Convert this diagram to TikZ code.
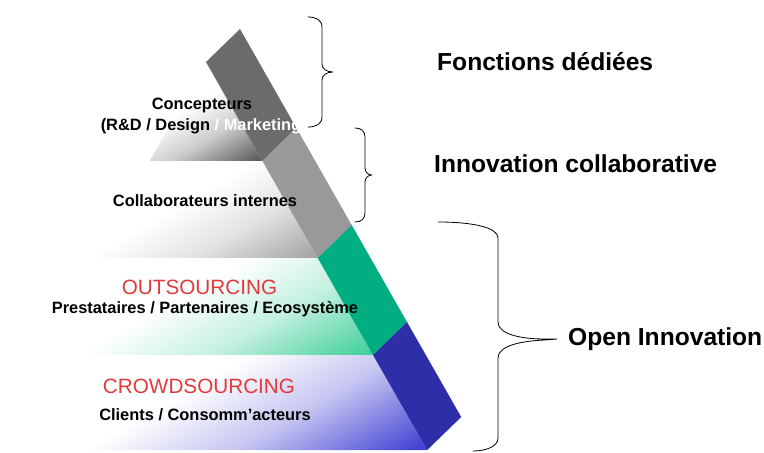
\documentclass[tikz,border=0pt]{standalone}
\usepackage{fontspec}
\setmainfont{Liberation Sans}
\usetikzlibrary{calc}

\definecolor{stripdark}{HTML}{6B6B6B}
\definecolor{stripgray}{HTML}{999999}
\definecolor{stripgreen}{HTML}{00AE82}
\definecolor{stripblue}{HTML}{2E2EA8}
\definecolor{banddark}{HTML}{555555}
\definecolor{bandgray}{HTML}{A2A2A2}
\definecolor{bandgreen}{HTML}{3CCF98}
\definecolor{bandblue}{HTML}{3C3CD2}
\definecolor{outred}{HTML}{E23A3A}
\colorlet{bandcol}{white}

\pgfdeclarehorizontalshading[bandcol]{bandfade}{100bp}{color(0bp)=(white); color(44bp)=(white); color(62bp)=(bandcol!30!white); color(84bp)=(bandcol); color(100bp)=(bandcol)}

\tikzset{
  band/.style={shading=bandfade, shading angle=-60},
  tierlabel/.style={inner sep=0pt, anchor=base, font=\fontsize{16.4}{19}\selectfont\bfseries},
  sourcelabel/.style={inner sep=0pt, anchor=base, text=outred, font=\fontsize{20.7}{24}\selectfont},
  sidelabel/.style={inner sep=0pt, anchor=base west, font=\fontsize{24.6}{29}\selectfont\bfseries},
  bracket/.style={line width=0.8pt, line cap=round, line join=round}
}

\begin{document}
\begin{tikzpicture}[x=1pt, y=-1pt]
	\useasboundingbox (0,0) rectangle (764,453);

	\coordinate (l0) at (206,62);
	\coordinate (l1) at (262.4,161);
	\coordinate (l2) at (317.7,258);
	\coordinate (l3) at (373,355);
	\coordinate (l4) at (427.2,450);

	\colorlet{bandcol}{banddark}
	\shade [band] (l0) -- (l1) -- (149.6,161) -- cycle;
	\colorlet{bandcol}{bandgray}
	\shade [band] (149.6,161) -- (l1) -- (l2) -- (94.3,258) -- cycle;
	\colorlet{bandcol}{bandgreen}
	\shade [band] (94.3,258) -- (l2) -- (l3) -- (39,355) -- cycle;
	\colorlet{bandcol}{bandblue}
	\shade [band] (39,355) -- (l3) -- (l4) -- (10,450) -- (10,404) -- cycle;

	\fill [stripdark] (l0) -- (l1) -- ($(l1)+(34,-33)$) -- ($(l0)+(34,-33)$) -- cycle;
	\fill [stripgray] (l1) -- (l2) -- ($(l2)+(34,-33)$) -- ($(l1)+(34,-33)$) -- cycle;
	\fill [stripgreen] (l2) -- (l3) -- ($(l3)+(34,-33)$) -- ($(l2)+(34,-33)$) -- cycle;
	\fill [stripblue] (l3) -- (l4) -- ($(l4)+(34,-33)$) -- ($(l3)+(34,-33)$) -- cycle;

	\node [tierlabel] (concep) at (202,109) {Concepteurs};
	\node [tierlabel] (rnd) at (201,130) {(R\&D / Design \textcolor{white}{/ Marketing}};
	\node [tierlabel] (collab) at (205,206) {Collaborateurs internes};
	\node [sourcelabel] (outs) at (199.5,294) {OUTSOURCING};
	\node [tierlabel] (presta) at (205,313) {Prestataires / Partenaires / Ecosystème};
	\node [sourcelabel] (crowd) at (199,393) {CROWDSOURCING};
	\node [tierlabel] (clients) at (205,420) {Clients / Consomm’acteurs};

	\node [sidelabel] (fonctions) at (437,70) {Fonctions dédiées};
	\node [sidelabel] (innocollab) at (434,172) {Innovation collaborative};
	\node [sidelabel] (openinno) at (568,345) {Open Innovation};

	\draw [bracket] (308,17) .. controls (316,17) and (322,20) .. (322,27) -- (322,64)
		.. controls (322,69) and (327,72) .. (333,72) .. controls (327,72) and (322,75) .. (322,80)
		-- (322,117) .. controls (322,124) and (316,127) .. (308,127);
	\draw [bracket] (355,128) .. controls (361,128) and (365,131) .. (365,137) -- (365,168)
		.. controls (365,172) and (368,175) .. (372,175) .. controls (368,175) and (365,178) .. (365,182)
		-- (365,213) .. controls (365,219) and (361,222) .. (355,222);
	\draw [bracket] (438,222) .. controls (475,222) and (498,228) .. (498,238) -- (498,322)
		.. controls (498,334) and (520,339) .. (545,339) -- (557,339) -- (545,340)
		.. controls (520,341) and (498,346) .. (498,358) -- (498,438)
		.. controls (498,447) and (485,451) .. (473,451);
\end{tikzpicture}
\end{document}
